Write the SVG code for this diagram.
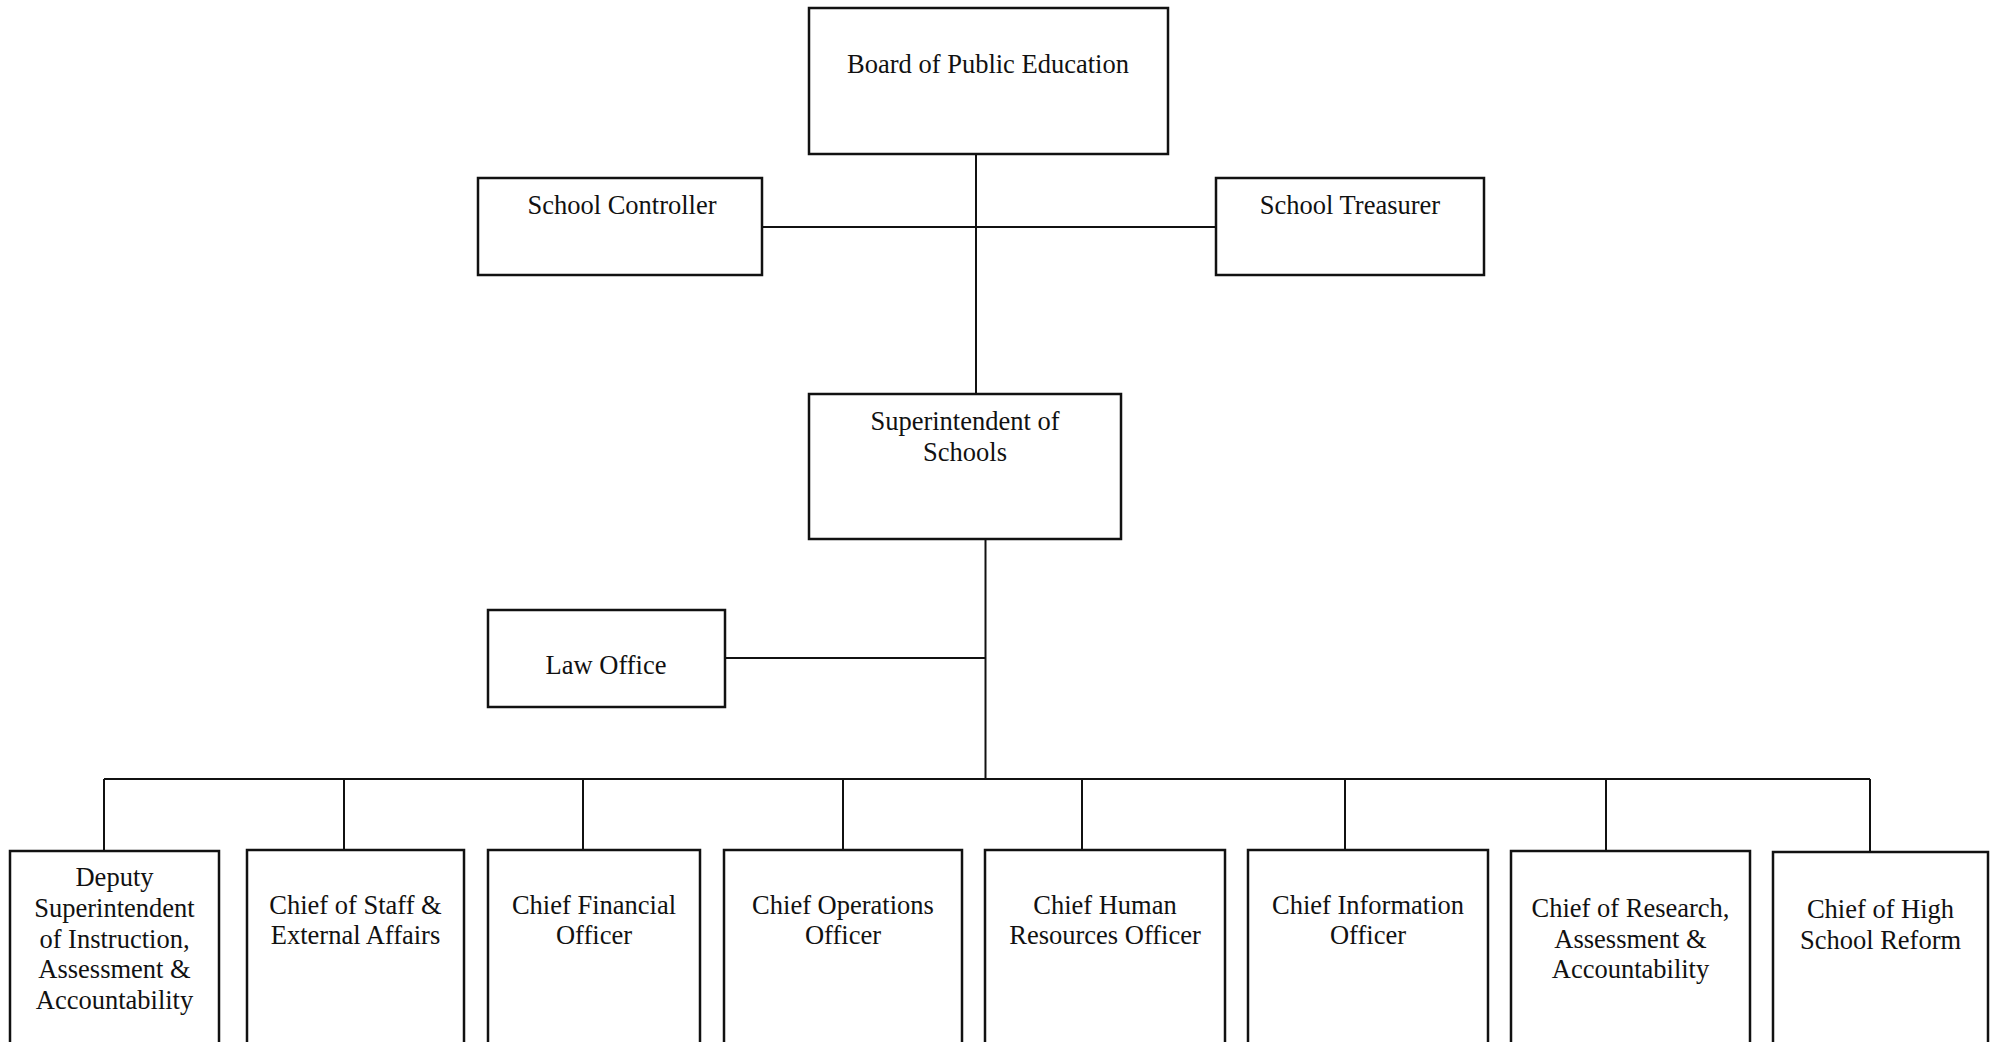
<svg xmlns="http://www.w3.org/2000/svg" width="1996" height="1042" viewBox="0 0 1996 1042">
<style>
.box{fill:#fff;stroke:#111;stroke-width:2.5}
.ln{fill:none;stroke:#111;stroke-width:2}
text{font-family:"Liberation Serif","Times New Roman",serif;font-size:26.5px;fill:#111;text-anchor:middle}
</style>
<rect x="0" y="0" width="1996" height="1042" fill="#fff"/>
<g id="connectors">
<path class="ln" d="M976 154V394"/>
<path class="ln" d="M762 227H1216"/>
<path class="ln" d="M985.5 539V779"/>
<path class="ln" d="M725 658H985.5"/>
<path class="ln" d="M104 779H1870"/>
<path class="ln" d="M104 779V851M344 779V850M583 779V850M843 779V850M1082 779V850M1345 779V850M1606 779V851M1870 779V852"/>
</g>
<g id="board"><rect class="box" x="809" y="8" width="359" height="146"/><text x="988" y="73">Board of Public Education</text></g>
<g id="controller"><rect class="box" x="478" y="178" width="284" height="97"/><text x="622" y="214">School Controller</text></g>
<g id="treasurer"><rect class="box" x="1216" y="178" width="268" height="97"/><text x="1350" y="214">School Treasurer</text></g>
<g id="superintendent"><rect class="box" x="809" y="394" width="312" height="145"/><text x="965" y="430">Superintendent of</text><text x="965" y="461">Schools</text></g>
<g id="law"><rect class="box" x="488" y="610" width="237" height="97"/><text x="606" y="674">Law Office</text></g>
<g id="deputy"><rect class="box" x="10" y="851" width="209" height="210"/><text x="114.5" y="886">Deputy</text><text x="114.5" y="917">Superintendent</text><text x="114.5" y="948">of Instruction,</text><text x="114.5" y="978">Assessment &amp;</text><text x="114.5" y="1009">Accountability</text></g>
<g id="staff"><rect class="box" x="247" y="850" width="217" height="210"/><text x="355.5" y="914">Chief of Staff &amp;</text><text x="355.5" y="944">External Affairs</text></g>
<g id="cfo"><rect class="box" x="488" y="850" width="212" height="210"/><text x="594" y="914">Chief Financial</text><text x="594" y="944">Officer</text></g>
<g id="coo"><rect class="box" x="724" y="850" width="238" height="210"/><text x="843" y="914">Chief Operations</text><text x="843" y="944">Officer</text></g>
<g id="hr"><rect class="box" x="985" y="850" width="240" height="210"/><text x="1105" y="914">Chief Human</text><text x="1105" y="944">Resources Officer</text></g>
<g id="cio"><rect class="box" x="1248" y="850" width="240" height="210"/><text x="1368" y="914">Chief Information</text><text x="1368" y="944">Officer</text></g>
<g id="research"><rect class="box" x="1511" y="851" width="239" height="210"/><text x="1630.5" y="917">Chief of Research,</text><text x="1630.5" y="948">Assessment &amp;</text><text x="1630.5" y="978">Accountability</text></g>
<g id="highschool"><rect class="box" x="1773" y="852" width="215" height="210"/><text x="1880.5" y="918">Chief of High</text><text x="1880.5" y="949">School Reform</text></g>
</svg>
